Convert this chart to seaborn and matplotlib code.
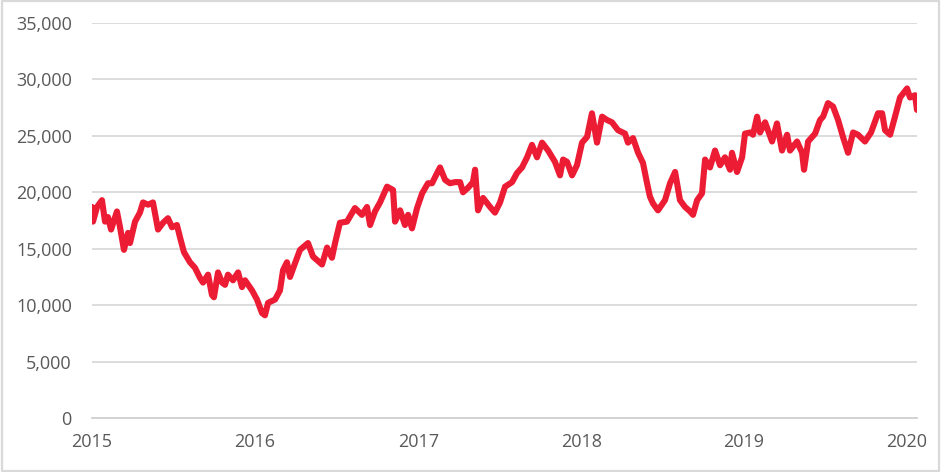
import numpy as np
import pandas as pd
import matplotlib
matplotlib.use("Agg")
import matplotlib.pyplot as plt
import seaborn as sns
from matplotlib.ticker import FuncFormatter
from matplotlib.patches import Rectangle

# decimal-year dates
dec_years = [
    2015.000, 2015.006, 2015.031, 2015.061, 2015.080, 2015.098, 2015.117, 2015.153, 2015.172, 2015.196,
    2015.221, 2015.233, 2015.264, 2015.294, 2015.313, 2015.344, 2015.374, 2015.405, 2015.436, 2015.466,
    2015.491, 2015.521, 2015.540, 2015.564, 2015.601, 2015.632, 2015.663, 2015.681, 2015.712, 2015.736,
    2015.748, 2015.773, 2015.798, 2015.816, 2015.834, 2015.865, 2015.896, 2015.920, 2015.939, 2015.982,
    2016.012, 2016.043, 2016.061, 2016.080, 2016.123, 2016.153, 2016.172, 2016.196, 2016.215, 2016.245,
    2016.276, 2016.325, 2016.356, 2016.411, 2016.442, 2016.472, 2016.491, 2016.521, 2016.564, 2016.613,
    2016.656, 2016.687, 2016.706, 2016.736, 2016.767, 2016.810, 2016.847, 2016.859, 2016.890, 2016.920,
    2016.939, 2016.963, 2016.994, 2017.025, 2017.061, 2017.086, 2017.117, 2017.135, 2017.166, 2017.196,
    2017.227, 2017.258, 2017.276, 2017.307, 2017.337, 2017.350, 2017.368, 2017.399, 2017.442, 2017.472,
    2017.503, 2017.534, 2017.577, 2017.607, 2017.638, 2017.669, 2017.699, 2017.730, 2017.761, 2017.798,
    2017.840, 2017.871, 2017.890, 2017.914, 2017.945, 2017.975, 2018.006, 2018.037, 2018.067, 2018.098,
    2018.129, 2018.160, 2018.190, 2018.227, 2018.270, 2018.288, 2018.319, 2018.350, 2018.380, 2018.405,
    2018.423, 2018.442, 2018.472, 2018.515, 2018.546, 2018.577, 2018.607, 2018.638, 2018.669, 2018.687,
    2018.712, 2018.742, 2018.761, 2018.791, 2018.822, 2018.853, 2018.883, 2018.914, 2018.926, 2018.957,
    2018.988, 2019.006, 2019.037, 2019.055, 2019.080, 2019.098, 2019.129, 2019.172, 2019.202, 2019.233,
    2019.264, 2019.282, 2019.325, 2019.356, 2019.368, 2019.393, 2019.436, 2019.466, 2019.485, 2019.515,
    2019.546, 2019.577, 2019.607, 2019.638, 2019.669, 2019.699, 2019.742, 2019.779, 2019.822, 2019.847,
    2019.865, 2019.896, 2019.926, 2019.957, 2020.000, 2020.018, 2020.049, 2020.061,
]

index_values = [
    18700, 17400, 18700, 19300, 17400, 17800, 16700, 18300, 16900, 14900,
    16400, 15500, 17400, 18200, 19100, 18900, 19100, 16700, 17300, 17700,
    16900, 17100, 16000, 14700, 13800, 13300, 12400, 12000, 12700, 10900,
    10700, 12900, 12000, 11800, 12700, 12200, 12900, 11600, 12200, 11300,
    10500, 9300, 9100, 10200, 10500, 11300, 13100, 13800, 12500, 13700,
    14900, 15500, 14300, 13600, 15100, 14200, 15500, 17300, 17400, 18600,
    18000, 18700, 17100, 18300, 19100, 20500, 20200, 17400, 18400, 17100,
    18000, 16800, 18600, 19900, 20800, 20800, 21700, 22200, 21100, 20800,
    20900, 20900, 20000, 20400, 20900, 22000, 18400, 19500, 18700, 18200,
    19100, 20500, 20900, 21700, 22200, 23100, 24200, 23100, 24400, 23700,
    22700, 21500, 22900, 22700, 21500, 22400, 24400, 24900, 27000, 24400,
    26700, 26400, 26200, 25500, 25200, 24400, 24800, 23500, 22600, 20800,
    19600, 19000, 18400, 19300, 20800, 21800, 19300, 18700, 18300, 18000,
    19300, 19900, 22900, 22200, 23700, 22400, 23100, 22000, 23500, 21800,
    23100, 25200, 25300, 25100, 26700, 25300, 26200, 24500, 26100, 23700,
    25100, 23700, 24500, 23500, 22000, 24500, 25200, 26400, 26700, 27900,
    27600, 26400, 24900, 23500, 25300, 25100, 24500, 25300, 27000, 27000,
    25500, 25100, 26700, 28400, 29200, 28400, 28600, 27300,
]

y_ticks = [0, 5000, 10000, 15000, 20000, 25000, 30000, 35000]
x_tick_years = [2015, 2016, 2017, 2018, 2019, 2020]

dy = np.array(dec_years)
dates = pd.Timestamp("2015-01-01") + pd.to_timedelta((dy - 2015.0) * 365.25, unit="D")
df = pd.DataFrame({"date": dates, "value": index_values})

sns.set_style("white")
plt.rcParams["font.family"] = ["Open Sans", "DejaVu Sans"]

fig = plt.figure(figsize=(9.42, 4.72), dpi=100)
ax = fig.add_axes([92 / 942, 1 - 418 / 472, (917 - 92) / 942, (418 - 23) / 472])

sns.lineplot(data=df, x="date", y="value", ax=ax, color="#EC1C35", linewidth=4.4,
             solid_joinstyle="round", solid_capstyle="round", zorder=3)

ax.set_xlim(df["date"].iloc[0], df["date"].iloc[-1])
ax.set_ylim(0, 35000)
ax.set_yticks(y_ticks)
ax.yaxis.set_major_formatter(FuncFormatter(lambda v, p: f"{int(v):,}"))
ax.set_xticks([pd.Timestamp(f"{y}-01-01") for y in x_tick_years])
ax.set_xticklabels([str(y) for y in x_tick_years])

ax.grid(axis="y", color="#d9d9d9", linewidth=1.3, zorder=0)
ax.grid(axis="x", visible=False)
for s in ["left", "right", "top"]:
    ax.spines[s].set_visible(False)
ax.spines["bottom"].set_color("#d0d0d0")
ax.spines["bottom"].set_linewidth(1.3)
ax.spines["bottom"].set_zorder(1)

ax.tick_params(axis="x", which="major", direction="out", length=4, width=1.3,
               color="#d0d0d0", labelsize=13, labelcolor="#595959", pad=7)
ax.tick_params(axis="y", length=0, labelsize=13, labelcolor="#595959", pad=14.5)
ax.set_xlabel("")
ax.set_ylabel("")

fig.patches.append(Rectangle((0.002, 0.003), 0.995, 0.994, transform=fig.transFigure,
                             fill=False, edgecolor="#d9d9d9", linewidth=1.6))

fig.savefig("out.png", dpi=100, facecolor="white")
